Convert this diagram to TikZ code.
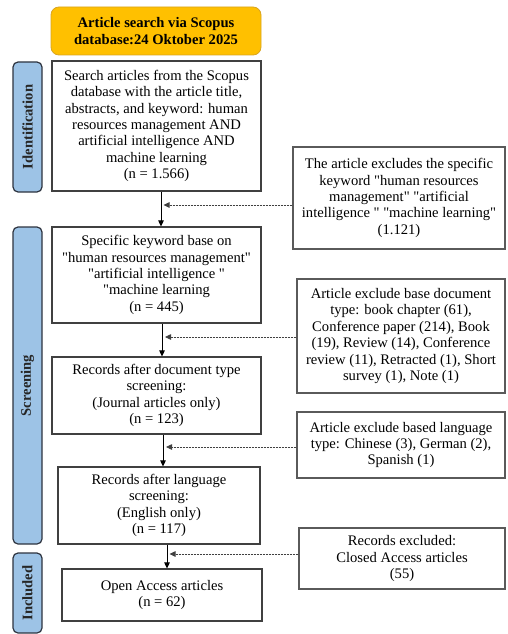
\documentclass[tikz,border=0pt]{standalone}
\usepackage{fontspec}
\setmainfont{Liberation Serif}[Ligatures=TeXOff]
\usetikzlibrary{arrows.meta,calc}
\definecolor{orangefill}{HTML}{FFC000}
\definecolor{orangeedge}{HTML}{D9A521}
\definecolor{barfill}{HTML}{9DC3E6}
\definecolor{baredge}{HTML}{2E3440}
\definecolor{boxedge}{HTML}{404040}
\definecolor{sideedge}{HTML}{5A5A5A}
\tikzset{
  every node/.style={font=\fontsize{14.6}{16.4}\selectfont, align=center, inner sep=0pt},
  mainbox/.style={draw=boxedge, line width=1.1pt, fill=white},
  sidebox/.style={draw=sideedge, line width=1.4pt, fill=white},
  titlebox/.style={draw=orangeedge, line width=0.8pt, fill=orangefill, rounded corners=8pt, font=\fontsize{14.6}{16.4}\selectfont\bfseries},
  phasebar/.style={draw=baredge, line width=1.2pt, fill=barfill, rounded corners=5pt, minimum width=29pt},
  phaselabel/.style={rotate=90, font=\fontsize{14.6}{16.4}\selectfont\bfseries, text=black!85},
  arr/.style={draw=black, line width=0.9pt, -{Triangle[length=6pt,width=5.5pt]}},
  darr/.style={draw=black!75, line width=0.8pt, dash pattern=on 2pt off 1pt, -{Triangle[length=6pt,width=5.5pt]}}
}
\begin{document}
\begin{tikzpicture}[x=1pt,y=-1pt]
\useasboundingbox[fill=white] (0,0) rectangle (507,634);

% phase bars
\node[phasebar, minimum height=130pt] (idbar) at (27.5,127) {};
\node[phaselabel] (idlab) at (idbar.center) {Identification};
\node[phasebar, minimum height=317pt] (scbar) at (27.5,385.5) {};
\node[phaselabel] (sclab) at (scbar.center) {Screening};
\node[phasebar, minimum height=80pt] (inbar) at (27.5,593) {};
\node[phaselabel] (inlab) at (inbar.center) {Included};

% title
\node[titlebox, minimum width=210pt, minimum height=48pt] (title) at (156,31)
  {Article search via Scopus\\database:24 Oktober 2025};

% main boxes
\node[mainbox, minimum width=209pt, minimum height=130pt] (b1) at (156.5,126)
  {Search articles from the Scopus\\database with the article title,\\abstracts, and keyword: human\\resources management AND\\artificial intelligence AND\\machine learning\\(n = 1.566)};
\node[mainbox, minimum width=209pt, minimum height=96pt] (b2) at (156.5,275)
  {Specific keyword base on\\"human resources management"\\"artificial intelligence "\\"machine learning\\(n = 445)};
\node[mainbox, minimum width=209pt, minimum height=77pt] (b3) at (156.5,395.5)
  {Records after document type\\screening:\\(Journal articles only)\\(n = 123)};
\node[mainbox, minimum width=202pt, minimum height=77pt] (b4) at (159,505.5)
  {Records after language\\screening:\\(English only)\\(n = 117)};
\node[mainbox, minimum width=200pt, minimum height=52pt] (b5) at (162,595)
  {Open Access articles\\(n = 62)};

% side (exclusion) boxes
\node[sidebox, minimum width=212pt, minimum height=102pt] (r1) at (399,198)
  {The article excludes the specific\\keyword "human resources\\management" "artificial\\intelligence " "machine learning"\\(1.121)};
\node[sidebox, minimum width=208pt, minimum height=114pt] (r2) at (401,336)
  {Article exclude base document\\type: book chapter (61),\\Conference paper (214), Book\\(19), Review (14), Conference\\review (11), Retracted (1), Short\\survey (1), Note (1)};
\node[sidebox, minimum width=208pt, minimum height=66pt] (r3) at (401,445)
  {Article exclude based language\\type: Chinese (3), German (2),\\Spanish (1)};
\node[sidebox, minimum width=206pt, minimum height=61pt] (r4) at (402,558.5)
  {Records excluded:\\Closed Access articles\\(55)};

% main arrows
\coordinate (a1) at ($(b1.south)+(4.5,0)$);
\coordinate (a2) at ($(b2.south)+(5.5,0)$);
\coordinate (a3) at ($(b3.south)+(6.5,0)$);
\coordinate (a4) at ($(b4.south)+(8,0)$);
\draw[arr] (a1) -- (a1 |- b2.north);
\draw[arr] (a2) -- (a2 |- b3.north);
\draw[arr] (a3) -- (a3 |- b4.north);
\draw[arr] (a4) -- (a4 |- b5.north);

% dashed arrows from exclusion boxes
\draw[darr] ($(r1.west)+(0,7)$) -- ($(r1.west -| a1)+(2.5,7)$);
\draw[darr] ($(r2.west)+(0,1)$) -- ($(r2.west -| a2)+(3,1)$);
\draw[darr] ($(r3.west)+(0,2)$) -- ($(r3.west -| a3)+(3,2)$);
\draw[darr] ($(r4.west)+(0,-4.5)$) -- ($(r4.west -| a4)+(2.5,-4.5)$);
\end{tikzpicture}
\end{document}
